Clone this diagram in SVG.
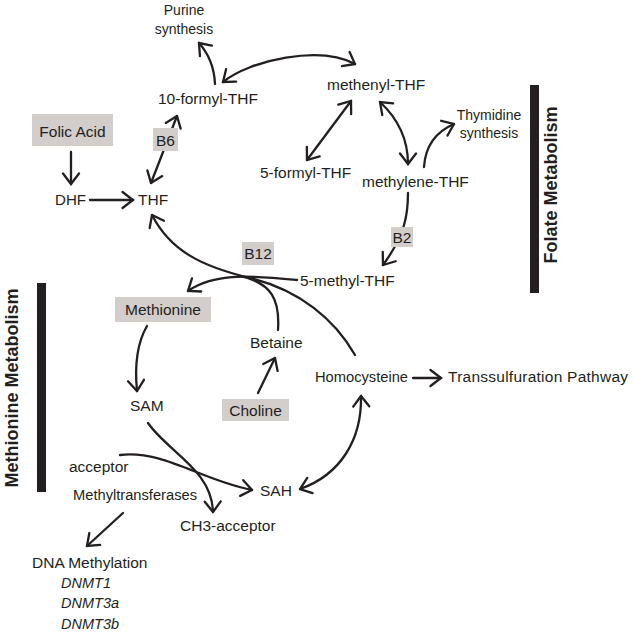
<svg xmlns="http://www.w3.org/2000/svg" width="633" height="635" viewBox="0 0 633 635">
<style>
  .t { font-family: "Liberation Sans", Arial, sans-serif; font-size: 15.5px; fill: #231f20; }
  .s { font-size: 14px; }
  .i { font-style: italic; font-size: 14.5px; }
  .b { font-family: "Liberation Sans", Arial, sans-serif; font-weight: bold; font-size: 18px; fill: #231f20; }
  .box { fill: #d3cdcc; }
  .c { fill: none; stroke: #231f20; stroke-width: 2.3; stroke-linecap: round; }
  .bar { fill: #231f20; }
</style>
<defs>
  <marker id="ah" viewBox="0 0 14 20" refX="12.5" refY="10" markerWidth="14" markerHeight="20" markerUnits="userSpaceOnUse" orient="auto-start-reverse">
    <path d="M2,2 L12.5,10 L2,18" fill="none" stroke="#231f20" stroke-width="2.3" stroke-linecap="round" stroke-linejoin="miter"/>
  </marker>
</defs>
<rect width="633" height="635" fill="#ffffff"/>

<g id="connectors">
  <path class="c" d="M71,152 L71,184" marker-end="url(#ah)"/>
  <path class="c" d="M90,200 L133,200" marker-end="url(#ah)"/>
  <path class="c" d="M151,183 L177,116" marker-start="url(#ah)" marker-end="url(#ah)"/>
  <path class="c" d="M215,84 Q214,60 199,43" marker-end="url(#ah)"/>
  <path class="c" d="M223,82 C250,60 320,45 355,64" marker-start="url(#ah)" marker-end="url(#ah)"/>
  <path class="c" d="M351,101 L307,160" marker-start="url(#ah)" marker-end="url(#ah)"/>
  <path class="c" d="M380,102 Q408,128 408,164" marker-start="url(#ah)" marker-end="url(#ah)"/>
  <path class="c" d="M424,167 Q426,136 454,124" marker-end="url(#ah)"/>
  <path class="c" d="M408,193 C408,215 405,235 383,265" marker-end="url(#ah)"/>
  <path class="c" d="M297,280 C255,276 215,272 188,291" marker-end="url(#ah)"/>
  <path class="c" d="M355,355 C335,320 300,290 250,278 C200,266 170,250 152,215" marker-end="url(#ah)"/>
  <path class="c" d="M278,330 C280,300 272,283 240,276"/>
  <path class="c" d="M147,326 Q133,350 137,391" marker-end="url(#ah)"/>
  <path class="c" d="M258,393 L275,358" marker-end="url(#ah)"/>
  <path class="c" d="M413,378 L441,378" marker-end="url(#ah)"/>
  <path class="c" d="M361,396 C362,440 340,475 300,489" marker-start="url(#ah)" marker-end="url(#ah)"/>
  <path class="c" d="M148,423 C168,452 212,470 213,512" marker-end="url(#ah)"/>
  <path class="c" d="M120,455 C165,450 200,480 252,490" marker-end="url(#ah)"/>
  <path class="c" d="M123,513 L87,546" marker-end="url(#ah)"/>
</g>

<g id="purine"><text class="t s" x="184" y="15" text-anchor="middle">Purine</text><text class="t s" x="184" y="34" text-anchor="middle">synthesis</text></g>
<g id="formyl10"><text class="t" x="158" y="104">10-formyl-THF</text></g>
<g id="methenyl"><text class="t" x="327" y="90">methenyl-THF</text></g>
<g id="thymidine"><text class="t s" x="489" y="120" text-anchor="middle">Thymidine</text><text class="t s" x="489" y="138" text-anchor="middle">synthesis</text></g>
<g id="folicacid"><rect class="box" x="32" y="114" width="81" height="32"/><text class="t" x="72.5" y="137" text-anchor="middle">Folic Acid</text></g>
<g id="b6"><rect class="box" x="153" y="128" width="25" height="23"/><text class="t" x="165.5" y="146" text-anchor="middle">B6</text></g>
<g id="formyl5"><text class="t" x="260" y="178">5-formyl-THF</text></g>
<g id="methylene"><text class="t" x="362" y="187">methylene-THF</text></g>
<g id="dhf"><text class="t" x="55" y="205" textLength="31" lengthAdjust="spacingAndGlyphs">DHF</text></g>
<g id="thf"><text class="t" x="138" y="205">THF</text></g>
<g id="b2"><rect class="box" x="391" y="227" width="22" height="20"/><text class="t" x="402" y="243" text-anchor="middle">B2</text></g>
<g id="b12"><rect class="box" x="242" y="242" width="32" height="23"/><text class="t" x="258" y="259" text-anchor="middle">B12</text></g>
<g id="methyl5"><text class="t" x="300" y="286">5-methyl-THF</text></g>
<g id="methionine"><rect class="box" x="115" y="297" width="96" height="25"/><text class="t" x="163" y="315" text-anchor="middle">Methionine</text></g>
<g id="betaine"><text class="t" x="250" y="348">Betaine</text></g>
<g id="homocysteine"><text class="t" x="315" y="382" textLength="93" lengthAdjust="spacingAndGlyphs">Homocysteine</text></g>
<g id="transsulfuration"><text class="t" x="448" y="382" textLength="180" lengthAdjust="spacing">Transsulfuration Pathway</text></g>
<g id="sam"><text class="t" x="130" y="411">SAM</text></g>
<g id="choline"><rect class="box" x="222" y="399" width="67" height="22"/><text class="t" x="255.5" y="416" text-anchor="middle">Choline</text></g>
<g id="acceptor"><text class="t" x="69" y="472">acceptor</text></g>
<g id="methyltransferases"><text class="t" x="73" y="500" textLength="124" lengthAdjust="spacingAndGlyphs">Methyltransferases</text></g>
<g id="sah"><text class="t" x="260" y="496">SAH</text></g>
<g id="ch3acceptor"><text class="t" x="180" y="531">CH3-acceptor</text></g>
<g id="dnamethylation"><text class="t" x="32" y="568">DNA Methylation</text><text class="t i" x="61" y="588">DNMT1</text><text class="t i" x="61" y="608">DNMT3a</text><text class="t i" x="61" y="629">DNMT3b</text></g>
<g id="folate-metabolism"><rect class="bar" x="530" y="85" width="9" height="208"/><text class="b" transform="translate(557,185) rotate(-90)" text-anchor="middle">Folate Metabolism</text></g>
<g id="methionine-metabolism"><rect class="bar" x="37" y="283" width="9" height="209"/><text class="b" transform="translate(18,388) rotate(-90)" text-anchor="middle">Methionine Metabolism</text></g>
</svg>
